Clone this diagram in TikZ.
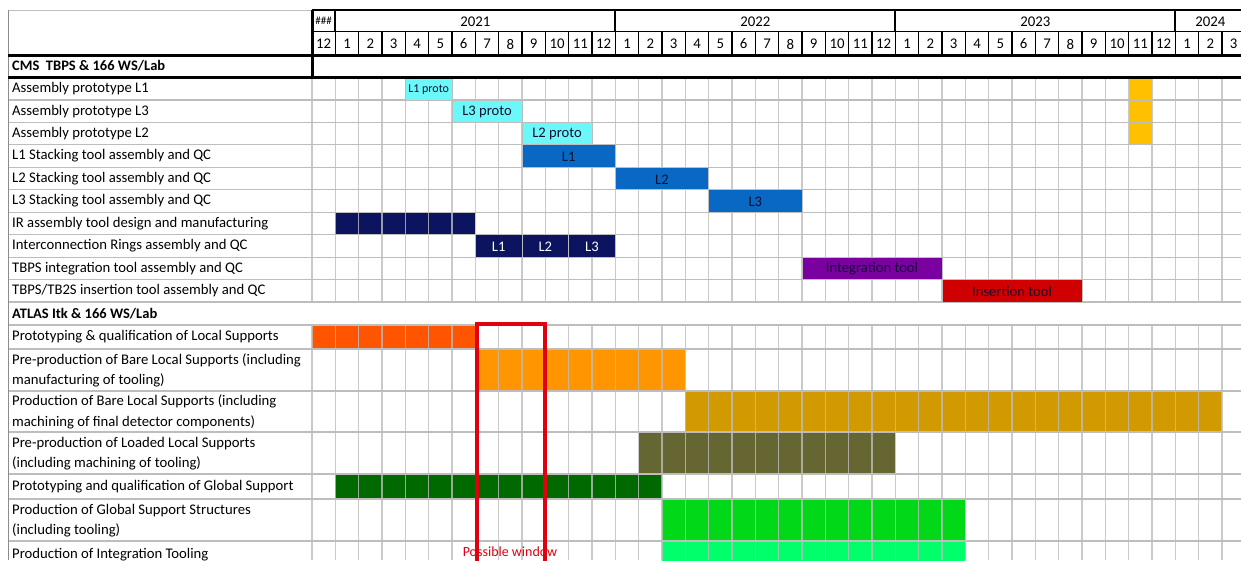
\documentclass[tikz,border=0pt]{standalone}
\usepackage{fontspec}
\setmainfont{Carlito}
\definecolor{gridgray}{HTML}{BDBDBD}
\definecolor{edgegray}{HTML}{8C8C8C}
\definecolor{cyanbar}{HTML}{6CF8F8}
\definecolor{bluebar}{HTML}{0868C4}
\definecolor{navybar}{HTML}{0C1460}
\definecolor{purplebar}{HTML}{7A00A0}
\definecolor{redbar}{HTML}{D00000}
\definecolor{yellowbar}{HTML}{FFC000}
\definecolor{orangered}{HTML}{FF5500}
\definecolor{orangebar}{HTML}{FF9500}
\definecolor{goldbar}{HTML}{D09A00}
\definecolor{olivebar}{HTML}{666633}
\definecolor{dgreen}{HTML}{006A00}
\definecolor{greenbar}{HTML}{00D818}
\definecolor{springbar}{HTML}{00FF6A}
\definecolor{winred}{HTML}{E00010}
\definecolor{darktext}{HTML}{101030}
\newcommand\cx[1]{312+23.3333*(#1)}
\newcommand\cellfill[5]{\fill[#5] ({\cx{#1}},#3) rectangle ({\cx{#2+1}},#4);}
\newcommand\mbar[8]{\draw[fill=#5, draw=gridgray, line width=0.8pt] ({\cx{#1}},#3) rectangle ({\cx{#2+1}},#4);
  \node[#6] (#7) at ({\cx{(#1+#2+1)/2}},{(#3+#4)/2+0.8}) {#8};}
\begin{document}
\begin{tikzpicture}[x=1pt,y=-1pt,
  gridline/.style={draw=gridgray,line width=1.2pt},
  numtxt/.style={inner sep=0pt, font=\fontsize{14.8}{15}\selectfont},
  rowlbl/.style={anchor=west, inner sep=0pt, align=left, font=\fontsize{14.7}{20.5}\selectfont},
  boldlbl/.style={anchor=west, inner sep=0pt, align=left, font=\fontsize{14.5}{20.5}\selectfont\bfseries},
  barlbl/.style={inner sep=0pt, text=darktext, font=\fontsize{14.6}{15}\selectfont},
  smallbarlbl/.style={inner sep=0pt, text=darktext, font=\fontsize{12}{12}\selectfont},
  whitelbl/.style={inner sep=0pt, text=white, font=\fontsize{14.6}{15}\selectfont}]
\useasboundingbox (0,0) rectangle (1241,560);
\clip (0,0) rectangle (1241,560);
\fill[white] (0,0) rectangle (1241,560);
% ---- fills that show the grid through them
\cellfill{1}{6}{212.2}{234.65}{navybar}
\cellfill{35}{35}{77.5}{144.85}{yellowbar}
\cellfill{0}{6}{325}{349}{orangered}
\cellfill{7}{15}{349}{391}{orangebar}
\cellfill{16}{38}{391}{432}{goldbar}
\cellfill{14}{24}{432}{474}{olivebar}
\cellfill{1}{14}{474}{499}{dgreen}
\cellfill{15}{27}{499}{541}{greenbar}
\cellfill{15}{27}{541}{583}{springbar}
% ---- grid
\foreach \i in {0,...,40} {
  \draw[gridline, draw opacity=0.8] ({\cx{\i}},77.5) -- ({\cx{\i}},302);
  \draw[gridline, draw opacity=0.8] ({\cx{\i}},325) -- ({\cx{\i}},560);
}
\foreach \y in {99.95,122.4,144.85,167.3,189.75,212.2,234.65,257.1,279.55,302,325,349,391,432,474,499,541}
  \draw[gridline] (8,\y) -- (1241,\y);
\draw[draw=gridgray, line width=1pt] (8,10) -- (312,10);
\draw[draw=edgegray, line width=1pt] (8,10) -- (8,560);
% ---- merged bars
\mbar{4}{5}{77.5}{99.95}{cyanbar}{smallbarlbl}{p1}{L1 proto}
\mbar{6}{8}{99.95}{122.4}{cyanbar}{barlbl}{p3}{L3 proto}
\mbar{9}{11}{122.4}{144.85}{cyanbar}{barlbl}{p2}{L2 proto}
\mbar{9}{12}{144.85}{167.3}{bluebar}{barlbl}{s1}{L1}
\mbar{13}{16}{167.3}{189.75}{bluebar}{barlbl}{s2}{L2}
\mbar{17}{20}{189.75}{212.2}{bluebar}{barlbl}{s3}{L3}
\mbar{7}{8}{234.65}{257.1}{navybar}{whitelbl}{i1}{L1}
\mbar{9}{10}{234.65}{257.1}{navybar}{whitelbl}{i2}{L2}
\mbar{11}{12}{234.65}{257.1}{navybar}{whitelbl}{i3}{L3}
\mbar{21}{26}{257.1}{279.55}{purplebar}{barlbl}{it}{Integration tool}
\mbar{27}{32}{279.55}{302}{redbar}{barlbl}{ins}{Insertion tool}
% ---- header
\draw[black, line width=1.2pt] (312,10) -- (1241,10);
\draw[black, line width=1.2pt] (312,31.7) -- (1241,31.7);
\foreach \i in {1,13,25,37}
  \draw[black, line width=1.8pt] ({\cx{\i}},10) -- ({\cx{\i}},31.7);
\foreach \i in {1,...,40}
  \draw[black, line width=1.6pt] ({\cx{\i}},31.7) -- ({\cx{\i}},55);
\draw[black, line width=3pt] (8,55) -- (1241,55);
\draw[black, line width=3pt] (8,77.5) -- (1241,77.5);
\draw[black, line width=3pt] (312,10) -- (312,77.5);
\node[inner sep=0pt, font=\fontsize{11}{11}\selectfont] (hh) at ({\cx{0.5}},21) {\#\#\#};
\node[numtxt] (y21) at ({\cx{7}},22) {2021};
\node[numtxt] (y22) at ({\cx{19}},22) {2022};
\node[numtxt] (y23) at ({\cx{31}},22) {2023};
\node[numtxt] (y24) at ({\cx{38.5}},22) {2024};
\foreach \i in {0,...,39} {
  \pgfmathtruncatemacro\m{mod(\i+11,12)+1}
  \node[numtxt] (m\i) at ({\cx{\i+0.5}},44) {\m};
}
% ---- row labels
\node[boldlbl] (cms) at (12,66.2) {CMS\ \ TBPS \& 166 WS/Lab};
\node[rowlbl] (l1) at (12,88.7) {Assembly prototype L1};
\node[rowlbl] (l2) at (12,111.2) {Assembly prototype L3};
\node[rowlbl] (l3) at (12,133.6) {Assembly prototype L2};
\node[rowlbl] (l4) at (12,156.1) {L1 Stacking tool assembly and QC};
\node[rowlbl] (l5) at (12,178.5) {L2 Stacking tool assembly and QC};
\node[rowlbl] (l6) at (12,201) {L3 Stacking tool assembly and QC};
\node[rowlbl] (l7) at (12,223.4) {IR assembly tool design and manufacturing};
\node[rowlbl] (l8) at (12,245.9) {Interconnection Rings assembly and QC};
\node[rowlbl] (l9) at (12,268.3) {TBPS integration tool assembly and QC};
\node[rowlbl] (l10) at (12,290.8) {TBPS/TB2S insertion tool assembly and QC};
\node[boldlbl] (atlas) at (12,313.5) {ATLAS Itk \& 166 WS/Lab};
\node[rowlbl] (a1) at (12,337) {Prototyping \& qualification of Local Supports};
\node[rowlbl] (a2) at (12,370.5) {Pre-production of Bare Local Supports (including\\manufacturing of tooling)};
\node[rowlbl] (a3) at (12,412) {Production of Bare Local Supports (including\\machining of final detector components)};
\node[rowlbl] (a4) at (12,453.5) {Pre-production of Loaded Local Supports\\(including machining of tooling)};
\node[rowlbl] (a5) at (12,486.5) {Prototyping and qualification of Global Support};
\node[rowlbl] (a6) at (12,520.5) {Production of Global Support Structures\\(including tooling)};
\node[rowlbl] (a7) at (12,554.5) {Production of Integration Tooling};
% ---- possible window
\draw[winred, line width=3.8pt] (477,600) -- (477,324.3) -- (545,324.3) -- (545,600);
\node[inner sep=0pt, anchor=base, text=winred, font=\fontsize{14}{14}\selectfont] (win) at (510,556) {Possible window};
\end{tikzpicture}
\end{document}
